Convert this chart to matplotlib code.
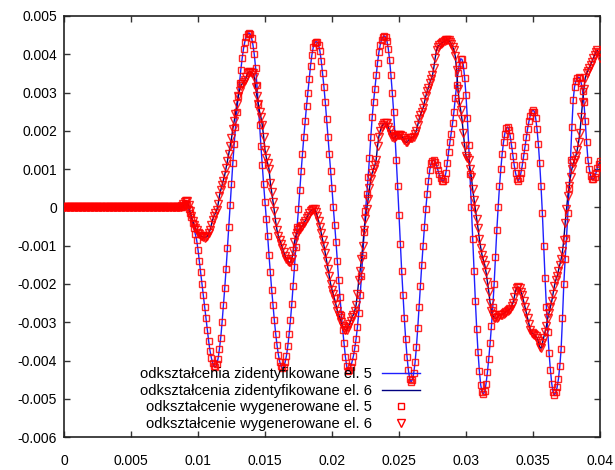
import numpy as np
import matplotlib
matplotlib.use("Agg")
import matplotlib.pyplot as plt
from matplotlib.lines import Line2D

plt.rcParams['font.family'] = ['Liberation Sans', 'DejaVu Sans']

# krok probkowania [s]
dt = 0.0001

# odksztalcenia el. 5, jednostka 1e-4 (odczyt z wykresu)
e5 = [0] * 88 + [
    0, 0.3, 0.8, 1.0, 0.6, -0.3, -1.5, -2.5, -4, -5.5, -7, -8.5, -11, -14, -17, -20, -23, -26, -29, -32, -35,
    -37.5, -39.3, -40.7, -41.5,
    -41.7, -41, -39.5, -37, -34, -30, -25.5, -21, -16, -10.5, -5, 0.5, 6, 11.5, 16.5, 21, 25, 29, 32.5, 36,
    39, 41.5, 43.3, 44.6, 45.3, 45.6,
    45.3, 44.3, 42.5, 40, 36.5, 32, 27, 21.5, 16, 11, 6, 1.5, -3, -7.5, -12.5, -17, -21.5, -25.5, -29.5, -33,
    -36, -38.5, -40.3, -41.5, -42,
    -41.6, -40.5, -38.8, -36.3, -33.2, -29.5, -25.3, -20.6, -15.6, -10.4, -5, -0.5, 4.5, 9.5, 14, 18.5, 22.5,
    26.5, 30, 33.5, 37, 39.8, 41.8, 42.9, 43.3, 43.2,
    42.5, 40.8, 38.3, 35, 31.5, 27.5, 23, 18.5, 14, 9.5, 5, 0, -4.5, -9, -14, -19, -23.5, -28, -32, -35.5,
    -39, -41.5, -42.7,
    -42.4, -41.6, -40.3, -38.8, -36.8, -34.3, -31.2, -27.5, -23, -18, -12.5, -6.5, -1, 3.5, 8, 13, 18.5,
    23.5, 27.5, 31, 34.5, 37.8, 40.5, 42.5, 43.8, 44.5, 44.8,
    44.5, 43.5, 41.5, 38.5, 34.5, 30, 25, 19, 12.5, 5.5, -2, -9.5, -16.5, -23, -29, -34.5, -39, -42.5, -44.8,
    -45.6,
    -45, -43.3, -40.5, -36.5, -31.5, -26, -20.5, -15, -10, -5, -0.5, 3.5, 7, 9.8, 11.5, 12.2, 12.3, 11.9, 11,
    9.8, 8.6, 7.6, 7, 6.9, 7.5, 9, 11.5, 14.5, 17, 19.3, 22, 25, 28.5, 32, 35, 37.3, 38.8,
    38.7, 37.2, 33.9, 29.3, 23.3, 16.4, 8.6, 0.2, -8.2, -16.6, -24.5, -31.7, -37.9, -42.8, -46.4, -48.3,
    -48.7,
    -48, -46, -43, -39.5, -35.5, -31, -26, -20, -13, -6, 0, 5.5, 10, 14, 17, 19.3, 20.7, 21, 20.3, 18.6,
    16.2, 13.5, 11, 9, 7.5, 7, 7.6, 9, 11, 13.3, 15.8, 18.3, 20.6, 22.5, 24, 25, 25.5, 25, 23.3,
    20.5, 16.5, 11.5, 5.5, -1.5, -10, -18.5, -26, -32.5, -38, -42.5, -46, -48.3, -49,
    -48.3, -47, -44.8, -41.5, -37, -29, -20, -13.5, -8, -1.5, 5, 12.5, 21, 28, 31.5, 33, 33.8, 34, 33.8,
    32.5, 30.5, 27.5, 22.5, 17, 12.5, 10, 8.3, 7.3, 7.3, 8, 9, 10.3, 11.3, 12,
]

# odksztalcenia el. 6, jednostka 1e-4
e6 = [0] * 88 + [
    0.3, 0.9, 1.4, 1.7, 1.6, 0.6, -1, -2.3, -3.5, -4.5, -5.3, -6, -6.6, -7, -7.4, -7.6, -7.8, -7.9, -7.8,
    -7.5, -6.8, -6, -4.5, -3.2, -2.2,
    -1.5, -0.8, 0.8, 3, 4.5, 5.8, 7, 8.5, 10.3, 12, 14, 16, 18, 20.5, 22.5, 24.5, 27, 29, 30.5, 31.7, 32.3,
    32.8, 33.2, 34, 35, 35.4,
    35.4, 35.2, 35, 34, 31.5, 29, 27, 25, 23.5, 21.5, 18.5, 15, 13, 11.5, 10, 6.5, 4, 1.5, -1, -3.8, -6,
    -7.5, -8.5, -9.5, -10.5,
    -11.7, -12.7, -13.5, -14, -14.3, -14.3, -13.5, -11.5, -9, -7.5, -6.8, -6, -5.6, -5.2, -4.8, -4.2, -3.5,
    -2.8, -2.2, -1.5, -1, -0.7, -0.5, -0.5, -1.2, -2.2,
    -3.5, -5, -6.8, -8.5, -10, -12, -14, -16, -18, -20, -21.5, -22.7, -24, -25.5, -27, -28, -29, -30, -31,
    -31.5, -32, -32, -31.3,
    -30.5, -29.6, -28.7, -28, -27, -25.5, -22.5, -19, -16.5, -13.5, -10, -6, -3, -0.5, 2.2, 5, 7.5, 9, 10,
    11, 12.5, 16, 18.5, 20, 21, 21.6, 22,
    22, 22, 21, 20.2, 19.3, 18.5, 18, 18.3, 18.7, 19, 19, 19, 18.7, 18.2, 17.5, 17, 17, 17.5, 18, 18.2,
    18.2, 18.5, 19.2, 20, 21.5, 23, 24.2, 25, 26, 27.5, 29, 30.3, 31.3, 32.5, 33.5, 34.5, 36.5, 39, 41, 42,
    42.4, 42.7, 43, 43.2, 43.4, 43.6, 43.7, 43.6, 43.3, 42.8, 42, 41, 39.5, 36, 31, 27.5, 25.5,
    23, 19.5, 16, 13.5, 12.8, 12.3, 10, 8, 4.7, 2, -0.5, -3, -5.5, -8.3, -10.5, -12.5, -13.8,
    -15, -17, -19.5, -22, -25, -27, -28.2, -28.8, -29, -28.8, -28.5, -28.2, -28, -28, -27.8, -27.5, -27.2,
    -27, -26.8, -26.5, -25.8, -25, -23.5, -21.8, -21, -20.8, -21, -22, -23, -24.5, -26, -27.5, -29, -30.5,
    -32, -32.7, -33, -33.3, -33.7,
    -34, -35, -36.5, -36.8, -35.5, -34, -32.5, -31, -29, -27.5, -26, -24.5, -22.5, -20.5,
    -19, -18, -16.5, -15, -13.5, -11.5, -8.5, -4, -0.5, 3, 5.5, 8, 10, 11.5, 12.5, 13.5, 15, 17, 19.5,
    23.5, 27.5, 31, 33.8, 35, 35.7, 36.5, 37.3, 38, 39, 39.8, 40.5, 41, 40.3, 39,
]

etykiety = [
    'odkształcenia zidentyfikowane el. 5',
    'odkształcenia zidentyfikowane el. 6',
    'odkształcenie wygenerowane el. 5',
    'odkształcenie wygenerowane el. 6',
]

xticks = [0, 0.005, 0.01, 0.015, 0.02, 0.025, 0.03, 0.035, 0.04]
xlabels = ['0', '0.005', '0.01', '0.015', '0.02', '0.025', '0.03', '0.035', '0.04']
yticks = [0.005, 0.004, 0.003, 0.002, 0.001, 0, -0.001, -0.002, -0.003, -0.004, -0.005, -0.006]
ylabels = ['0.005', '0.004', '0.003', '0.002', '0.001', '0', '-0.001', '-0.002', '-0.003',
           '-0.004', '-0.005', '-0.006']

y5 = np.array(e5) * 1e-4
y6 = np.array(e6) * 1e-4
t5 = np.arange(len(y5)) * dt
t6 = np.arange(len(y6)) * dt

fig = plt.figure(figsize=(6.15, 4.70), dpi=100)
ax = fig.add_axes([0.104, 0.070, 0.8716, 0.896])

niebieski = '#1f1fff'
granat = '#000080'
czerwony = '#ff0000'

ax.plot(t5, y5, color=niebieski, lw=1.0, zorder=2)
ax.plot(t6, y6, color=granat, lw=1.0, zorder=2)
ax.plot(t5, y5, ls='none', marker='s', ms=4.8, mfc='none', mec=czerwony, mew=1.0, alpha=0.85, zorder=3)
ax.plot(t6, y6, ls='none', marker='v', ms=5.4, mfc='none', mec=czerwony, mew=1.0, alpha=0.85, zorder=3)

ax.set_xlim(0, 0.04)
ax.set_ylim(-0.006, 0.005)
ax.set_xticks(xticks)
ax.set_xticklabels(xlabels)
ax.set_yticks(yticks)
ax.set_yticklabels(ylabels)
ax.tick_params(direction='in', top=True, right=True, length=4, width=1, labelsize=10, color='#333333')
ax.tick_params(axis='x', pad=12)
ax.tick_params(axis='y', pad=5)
for s in ax.spines.values():
    s.set_linewidth(1.2)
    s.set_color('#222222')

uchwyty = [
    Line2D([], [], color=niebieski, lw=1.0),
    Line2D([], [], color=granat, lw=1.0),
    Line2D([], [], ls='none', marker='s', ms=4.8, mfc='none', mec=czerwony, mew=1.0),
    Line2D([], [], ls='none', marker='v', ms=5.4, mfc='none', mec=czerwony, mew=1.0),
]
ax.legend(uchwyty, etykiety, loc='lower right', bbox_to_anchor=(0.664, 0.015), frameon=False,
          markerfirst=False, fontsize=10.6, handlelength=2.6, handletextpad=0.65, labelspacing=0.17,
          borderpad=0, borderaxespad=0, numpoints=1)

fig.savefig('out.png', dpi=100)
